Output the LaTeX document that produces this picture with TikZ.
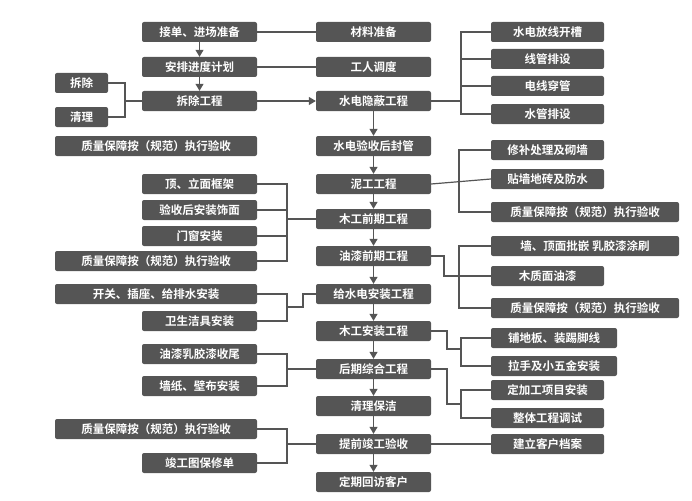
\documentclass[tikz,border=0pt]{standalone}
\usepackage{fontspec}
\newfontfamily\cjk{Noto Sans CJK SC}[BoldFont={Noto Sans CJK SC Bold}]
\usetikzlibrary{arrows.meta}
\definecolor{bx}{HTML}{555555}
\begin{document}
\begin{tikzpicture}[x=1pt,y=-1pt,
 bx/.style={fill=bx,rounded corners=2pt,text=white,font=\cjk\bfseries\fontsize{11.5}{12}\selectfont,inner sep=0pt,minimum height=20pt,anchor=center},
 ln/.style={draw=bx,line width=1.2pt},
 ar/.style={ln,-{Triangle[width=8pt,length=7pt]}}]
\useasboundingbox (0,0) rectangle (692,500);
\newcommand\bxn[5]{\node[bx,minimum width=#4-#3] (#1) at ({(#3+#4)/2},#5) {#2};}
% left column top
\bxn{a1}{接单、进场准备}{142}{257}{32}
\bxn{a2}{安排进度计划}{142}{257}{67}
\bxn{a3}{拆除工程}{142}{257}{101}
\bxn{l1}{拆除}{55}{108}{83}
\bxn{l2}{清理}{55}{108}{117}
\bxn{l3}{质量保障按（规范）执行验收}{55}{257}{146}
% center
\bxn{b1}{材料准备}{316}{431}{32}
\bxn{b2}{工人调度}{316}{431}{67}
\bxn{c1}{水电隐蔽工程}{316}{431}{101}
\bxn{c2}{水电验收后封管}{316}{431}{146}
\bxn{c3}{泥工工程}{316}{431}{184}
\bxn{c4}{木工前期工程}{316}{431}{219}
\bxn{c5}{油漆前期工程}{316}{431}{256}
\bxn{c6}{给水电安装工程}{316}{431}{294}
\bxn{c7}{木工安装工程}{316}{431}{331}
\bxn{c8}{后期综合工程}{316}{431}{369}
\bxn{c9}{清理保洁}{316}{431}{406}
\bxn{c10}{提前竣工验收}{316}{431}{444}
\bxn{c11}{定期回访客户}{316}{431}{482}
% right
\bxn{r1}{水电放线开槽}{491}{604}{32}
\bxn{r2}{线管排设}{491}{604}{59}
\bxn{r3}{电线穿管}{491}{604}{86}
\bxn{r4}{水管排设}{491}{604}{114}
\bxn{r5}{修补处理及砌墙}{491}{604}{150}
\bxn{r6}{贴墙地砖及防水}{491}{604}{179}
\bxn{r7}{质量保障按（规范）执行验收}{491}{679}{212}
\bxn{r8}{墙、顶面批嵌 乳胶漆涂刷}{491}{679}{246}
\bxn{r9}{木质面油漆}{491}{604}{276}
\bxn{r10}{质量保障按（规范）执行验收}{491}{679}{308}
\bxn{r11}{铺地板、装踢脚线}{491}{617}{338}
\bxn{r12}{拉手及小五金安装}{491}{617}{366}
\bxn{r13}{定加工项目安装}{491}{604}{390}
\bxn{r14}{整体工程调试}{491}{604}{418}
\bxn{r15}{建立客户档案}{491}{604}{444}
% left lower
\bxn{d1}{顶、立面框架}{142}{257}{184}
\bxn{d2}{验收后安装饰面}{142}{257}{210}
\bxn{d3}{门窗安装}{142}{257}{236}
\bxn{d4}{质量保障按（规范）执行验收}{55}{257}{261}
\bxn{e1}{开关、插座、给排水安装}{55}{257}{294}
\bxn{e2}{卫生洁具安装}{142}{257}{321}
\bxn{f1}{油漆乳胶漆收尾}{142}{257}{354}
\bxn{f2}{墙纸、壁布安装}{142}{257}{386}
\bxn{g1}{质量保障按（规范）执行验收}{55}{257}{429}
\bxn{g2}{竣工图保修单}{142}{257}{463}
% arrows
\draw[ar] (a1) -- (a2);
\draw[ar] (a2) -- (a3);
\draw[ar] (a3) -- (c1);
\foreach \i/\j in {c1/c2,c2/c3,c3/c4,c4/c5,c5/c6,c6/c7,c7/c8,c8/c9,c9/c10,c10/c11} \draw[ar] (\i) -- (\j);
\draw[ln] (a1) -- (b1);
\draw[ln] (a2) -- (b2);
\draw[ln] (l1.east) -| (125,101) |- (l2.east);
\draw[ln] (125,101) -- (a3.west);
% right brackets
\draw[ln] (c1.east) -- (461,101);
\draw[ln] (r1.west) -| (461,114) -- (r4.west);
\draw[ln] (461,59) -- (r2.west); \draw[ln] (461,86) -- (r3.west);
\draw[ln] (c3.east) -- (r6.west);
\draw[ln] (r5.west) -| (459,212) -- (r7.west);
\draw[ln] (r8.west) -| (459,308) -- (r10.west);
\draw[ln] (c5.east) -| (444,276) -- (r9.west);
\draw[ln] (c7.east) -| (447,349) -- (461,349);
\draw[ln] (r11.west) -| (461,366) -- (r12.west);
\draw[ln] (c8.east) -| (447,404) -- (461,404);
\draw[ln] (r13.west) -| (461,418) -- (r14.west);
\draw[ln] (c10) -- (r15);
% left brackets
\draw[ln] (d1.east) -| (287,261) -- (d4.east);
\draw[ln] (d2.east) -- (287,210); \draw[ln] (d3.east) -- (287,236);
\draw[ln] (287,219) -- (c4.west);
\draw[ln] (e1.east) -| (287,321) -- (e2.east);
\draw[ln] (287,307) -- (303,307) |- (c6.west);
\draw[ln] (f1.east) -| (287,386) -- (f2.east);
\draw[ln] (287,369) -- (c8.west);
\draw[ln] (g1.east) -| (287,463) -- (g2.east);
\draw[ln] (287,444) -- (c10.west);
\end{tikzpicture}
\end{document}
